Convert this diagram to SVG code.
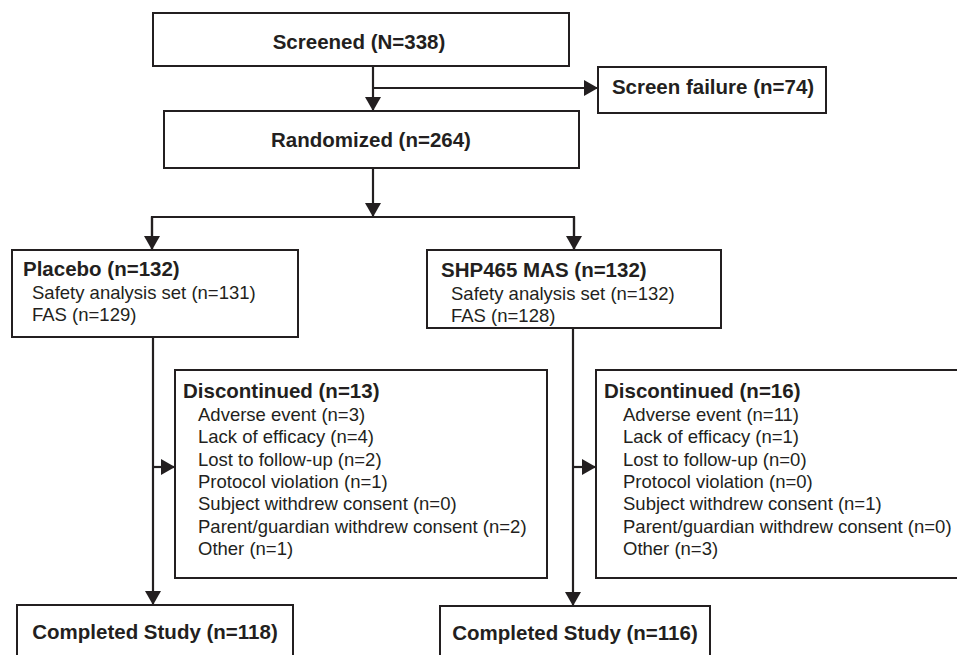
<svg xmlns="http://www.w3.org/2000/svg" width="957" height="655" viewBox="0 0 957 655">
<style>
.box{fill:#fff;stroke:#231f20;stroke-width:2}
.ln{fill:none;stroke:#231f20;stroke-width:2.2}
.b{font-family:"Liberation Sans",Arial,sans-serif;font-weight:bold;font-size:20.5px;fill:#231f20}
.r{font-family:"Liberation Sans",Arial,sans-serif;font-size:18.5px;fill:#231f20}
.c{text-anchor:middle}
</style>
<defs>
<marker id="ah" viewBox="0 0 14 16" refX="14" refY="8" markerWidth="14" markerHeight="16" markerUnits="userSpaceOnUse" orient="auto">
<path d="M0,0 L14,8 L0,16 z" fill="#231f20"/>
</marker>
</defs>
<rect width="957" height="655" fill="#fff"/>
<g id="connectors">
<line class="ln" x1="373" y1="66" x2="373" y2="111" marker-end="url(#ah)"/>
<line class="ln" x1="373" y1="88" x2="598" y2="88" marker-end="url(#ah)"/>
<line class="ln" x1="373" y1="168" x2="373" y2="217" marker-end="url(#ah)"/>
<polyline class="ln" points="152,250 152,217 574,217 574,250"/>
<line class="ln" x1="152" y1="217" x2="152" y2="250" marker-end="url(#ah)"/>
<line class="ln" x1="574" y1="217" x2="574" y2="250" marker-end="url(#ah)"/>
<line class="ln" x1="153" y1="337" x2="153" y2="605" marker-end="url(#ah)"/>
<line class="ln" x1="153" y1="467" x2="175" y2="467" marker-end="url(#ah)"/>
<line class="ln" x1="573" y1="328" x2="573" y2="606" marker-end="url(#ah)"/>
<line class="ln" x1="573" y1="467" x2="596" y2="467" marker-end="url(#ah)"/>
</g>
<g id="screened">
<rect class="box" x="153" y="13" width="416" height="53"/>
<text class="b c" x="359" y="49">Screened (N=338)</text>
</g>
<g id="screen-failure">
<rect class="box" x="598" y="67" width="228" height="46"/>
<text class="b c" x="713" y="94">Screen failure (n=74)</text>
</g>
<g id="randomized">
<rect class="box" x="164" y="111" width="415" height="57"/>
<text class="b c" x="371" y="147">Randomized (n=264)</text>
</g>
<g id="placebo">
<rect class="box" x="12" y="250" width="286" height="87"/>
<text class="b" x="23" y="276">Placebo (n=132)</text>
<text class="r" x="32" y="299">Safety analysis set (n=131)</text>
<text class="r" x="32" y="321">FAS (n=129)</text>
</g>
<g id="shp465">
<rect class="box" x="427" y="250" width="294" height="78"/>
<text class="b" x="441" y="277">SHP465 MAS (n=132)</text>
<text class="r" x="451" y="300">Safety analysis set (n=132)</text>
<text class="r" x="451" y="322">FAS (n=128)</text>
</g>
<g id="discontinued-placebo">
<rect class="box" x="175" y="370" width="372" height="208"/>
<text class="b" x="183" y="398">Discontinued (n=13)</text>
<text class="r" x="198" y="421">Adverse event (n=3)</text>
<text class="r" x="198" y="443">Lack of efficacy (n=4)</text>
<text class="r" x="198" y="466">Lost to follow-up (n=2)</text>
<text class="r" x="198" y="488">Protocol violation (n=1)</text>
<text class="r" x="198" y="510">Subject withdrew consent (n=0)</text>
<text class="r" x="198" y="533">Parent/guardian withdrew consent (n=2)</text>
<text class="r" x="198" y="555">Other (n=1)</text>
</g>
<g id="discontinued-shp">
<rect class="box" x="596" y="370" width="366" height="208"/>
<text class="b" x="604" y="398">Discontinued (n=16)</text>
<text class="r" x="623" y="421">Adverse event (n=11)</text>
<text class="r" x="623" y="443">Lack of efficacy (n=1)</text>
<text class="r" x="623" y="466">Lost to follow-up (n=0)</text>
<text class="r" x="623" y="488">Protocol violation (n=0)</text>
<text class="r" x="623" y="510">Subject withdrew consent (n=1)</text>
<text class="r" x="623" y="533">Parent/guardian withdrew consent (n=0)</text>
<text class="r" x="623" y="555">Other (n=3)</text>
</g>
<g id="completed-placebo">
<rect class="box" x="17" y="605" width="276" height="60"/>
<text class="b c" x="155" y="639">Completed Study (n=118)</text>
</g>
<g id="completed-shp">
<rect class="box" x="440" y="606" width="270" height="60"/>
<text class="b c" x="575" y="640">Completed Study (n=116)</text>
</g>
</svg>
